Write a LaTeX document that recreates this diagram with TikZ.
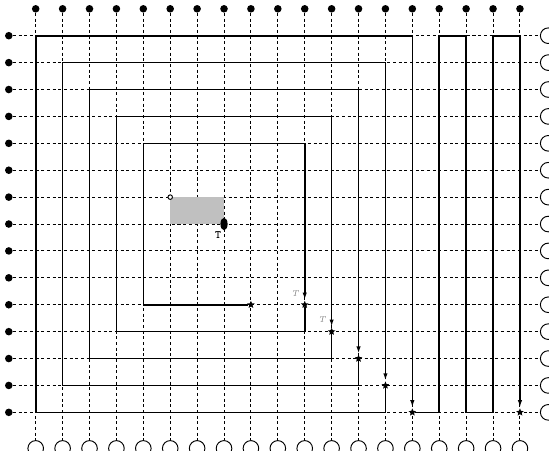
\documentclass[tikz,border=0pt]{standalone}
\usepackage{tikz}
\usetikzlibrary{shapes.geometric, arrows.meta, positioning}
\definecolor{boxgray}{HTML}{c0c0c0}
\definecolor{labelgray}{HTML}{7a7a7a}

\begin{document}
\begin{tikzpicture}[x=0.5cm, y=0.5cm,
  netdot/.style={circle, fill=black, inner sep=0pt, minimum size=4pt},
  termcirc/.style={circle, draw=black, line width=0.5pt, fill=white, inner sep=0pt, minimum size=0.29cm},
  gridline/.style={line width=0.5pt, dash pattern=on 1.6pt off 1.4pt},
  wire/.style={line width=0.85pt},
  viastar/.style={star, star points=5, star point ratio=2.2, fill=black, inner sep=0pt, minimum size=4.2pt},
  tlabel/.style={font=\fontsize{4.5}{5}\selectfont\itshape, text=labelgray, inner sep=0.5pt},
  tip/.style={-{Latex[length=3.8pt,width=2.3pt]}}]
  \clip (-1.327,1.327) rectangle (19.08,-15.40);
  \foreach \i in {0,...,18} {
    \node[netdot] (t\i) at (\i,1) {};
    \node[termcirc] (b\i) at (\i,-15.34) {};
    \draw[gridline] (t\i) -- (b\i);
  }
  \foreach \j in {0,...,14} {
    \node[netdot] (l\j) at (-1,-\j) {};
    \node[termcirc] (r\j) at (19.05,-\j) {};
    \draw[gridline] (l\j) -- (r\j);
  }
  \fill[boxgray] (t5 |- l6) rectangle (t7 |- l7);
  \node[circle, draw, fill=white, line width=0.5pt, inner sep=0pt, minimum size=2.4pt] (src) at (t5 |- l6) {};
  \node[ellipse, fill=black, inner sep=0pt, minimum width=3.8pt, minimum height=6.6pt] (sink) at (t7 |- l7) {};
  \node[font=\fontsize{6}{6}\selectfont\ttfamily\bfseries, inner sep=0.5pt, below=0pt of sink, xshift=-0.11cm] (sinklbl) {T};
  \foreach \c/\r in {8/10, 10/10, 11/11, 12/12, 13/13, 14/14, 18/14}
    \node[viastar] (s\c) at (t\c |- l\r) {};
  \node[tlabel] (lbl10) at ([xshift=-0.18cm, yshift=0.215cm]s10) {T};
  \node[tlabel] (lbl11) at ([xshift=-0.18cm, yshift=0.215cm]s11) {T};
  \draw[wire, tip] (s8) -| (t4 |- l4) -| (s10);
  \foreach \r [evaluate=\r as \p using int(9+\r), evaluate=\r as \q using int(10+\r), evaluate=\r as \lo using int(4-\r)] in {1,...,4}
    \draw[wire, tip] (s\p) |- (t\lo |- l\q) |- (t\q |- l\lo) -- (s\q);
  \draw[wire, tip] (s14) -| (t15 |- l0) -| (t16 |- l14) -| (t17 |- l0) -| (s18);
\end{tikzpicture}
\end{document}
